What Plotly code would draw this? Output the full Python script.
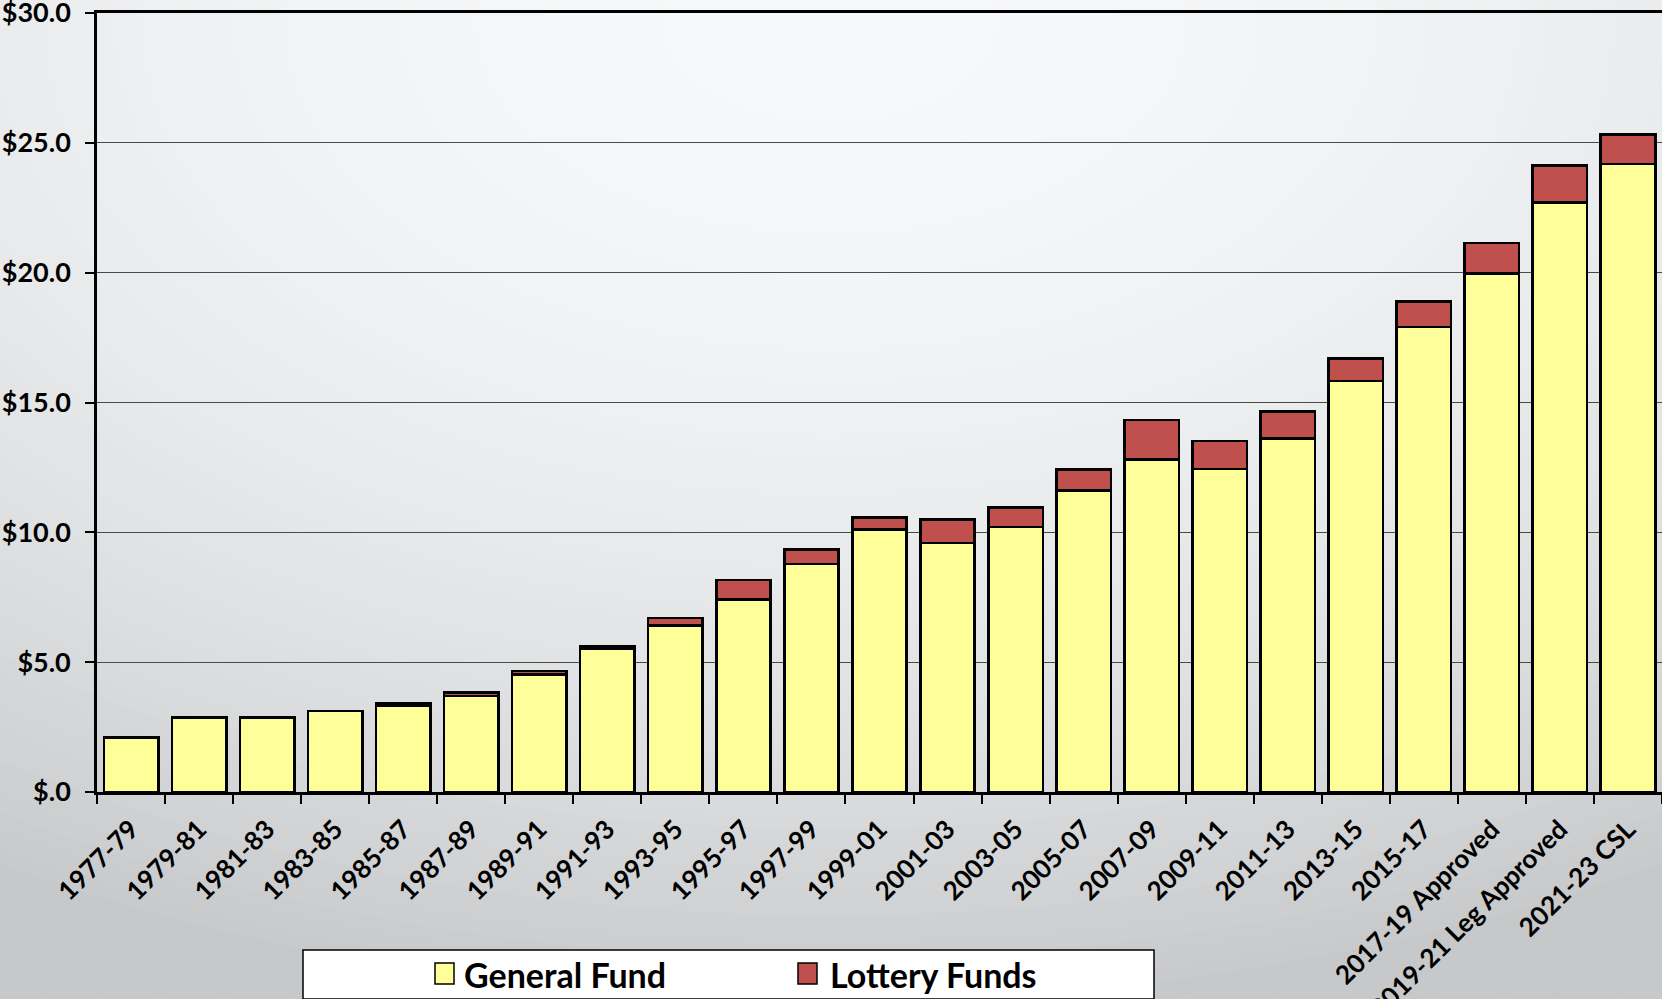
import plotly.graph_objects as go

# ---- data (billions of dollars) ----
categories = ["1977-79", "1979-81", "1981-83", "1983-85", "1985-87", "1987-89",
              "1989-91", "1991-93", "1993-95", "1995-97", "1997-99", "1999-01",
              "2001-03", "2003-05", "2005-07", "2007-09", "2009-11", "2011-13",
              "2013-15", "2015-17", "2017-19 Approved", "2019-21 Leg Approved",
              "2021-23 CSL"]
general_fund = [2.09, 2.88, 2.88, 3.12, 3.32, 3.69, 4.53, 5.52, 6.42, 7.41, 8.78, 10.11,
                9.59, 10.20, 11.62, 12.80, 12.44, 13.61, 15.83, 17.91, 19.97, 22.70, 24.18]
lottery_funds = [0.0, 0.0, 0.0, 0.0, 0.08, 0.14, 0.13, 0.11, 0.28, 0.76, 0.57, 0.47,
                 0.90, 0.76, 0.81, 1.53, 1.08, 1.04, 0.86, 0.97, 1.17, 1.42, 1.14]
y_tick_vals = [0, 5, 10, 15, 20, 25, 30]
y_tick_text = ["$.0", "$5.0", "$10.0", "$15.0", "$20.0", "$25.0", "$30.0"]
series_names = ["General Fund", "Lottery Funds"]
series_colors = ["#FFFF99", "#C0504D"]

W, H = 1662, 999
ML, MR, MT, MB = 97, 0, 13, 207
PW = W - ML - MR
PH = H - MT - MB


def px_x(px):
    return (px - ML) / PW


def px_y(py):
    return (H - MB - py) / PH


FONT = "Lato"

fig = go.Figure()
for name, vals, col in zip(series_names, [general_fund, lottery_funds], series_colors):
    fig.add_trace(go.Bar(
        x=categories, y=vals, name=name,
        marker=dict(color=col, line=dict(color="black", width=2.6)),
        showlegend=False,
    ))

shapes = []
# background radial-ish gradient (decorative)
light, dark = 247, 199
N = 90
cx, cy = 830, 20
for k in range(N, 0, -1):
    d = 1.3 * k / N
    c = light - (light - dark) * min(d * d, 1.0)
    rx, ry = 1650 * d, 1000 * d
    shapes.append(dict(type="circle", xref="paper", yref="paper", layer="below",
                       x0=px_x(cx - rx), x1=px_x(cx + rx), y0=px_y(cy + ry), y1=px_y(cy - ry),
                       fillcolor=f"rgb({c:.2f},{c+1:.2f},{c+2:.2f})", line=dict(width=0)))

# legend box
shapes.append(dict(type="rect", xref="paper", yref="paper", layer="above",
                   x0=px_x(303), x1=px_x(1154), y0=px_y(999), y1=px_y(950),
                   fillcolor="white", line=dict(color="black", width=1.5)))
legend_marker_x = [435, 798]
legend_text_x = [462, 828]
annotations = []
for name, col, mx, tx in zip(series_names, series_colors, legend_marker_x, legend_text_x):
    shapes.append(dict(type="rect", xref="paper", yref="paper", layer="above",
                       x0=px_x(mx), x1=px_x(mx + 19), y0=px_y(984), y1=px_y(963),
                       fillcolor=col, line=dict(color="black", width=1.5)))
    annotations.append(dict(xref="paper", yref="paper", x=px_x(tx), y=px_y(974),
                            xanchor="left", yanchor="middle", showarrow=False,
                            text=name, font=dict(family=FONT, size=34, color="black", weight="bold")))

fig.update_layout(
    width=W, height=H,
    margin=dict(l=ML, r=MR, t=MT, b=MB, pad=0, autoexpand=False),
    barmode="stack", bargap=0.2,
    paper_bgcolor="rgb(199,200,201)",
    plot_bgcolor="rgba(0,0,0,0)",
    shapes=shapes, annotations=annotations,
    showlegend=False,
    font=dict(family=FONT, color="black"),
)
fig.update_xaxes(
    type="category", tickmode="array", tickvals=categories, ticktext=categories,
    tickangle=-45, tickfont=dict(family=FONT, size=26, color="black", weight="bold"),
    ticks="outside", tickson="boundaries", ticklen=9, tickwidth=1.5, tickcolor="black",
    ticklabelstandoff=9, ticklabeloverflow="allow", automargin=False,
    showline=True, linecolor="black", linewidth=2.6, mirror=True,
    showgrid=False, zeroline=False,
)
fig.update_yaxes(
    range=[0, 30], tickmode="array", tickvals=y_tick_vals, ticktext=y_tick_text,
    tickfont=dict(family=FONT, size=27, color="black", weight="bold"),
    ticks="outside", ticklen=9, tickwidth=1.5, tickcolor="black", ticklabelstandoff=9,
    ticklabeloverflow="allow", automargin=False,
    showline=True, linecolor="black", linewidth=2.6,
    showgrid=True, gridcolor="#4a4a4a", gridwidth=1.3, zeroline=False,
)

fig.write_html("out.html", config={"displayModeBar": False},
               post_script="document.body.style.margin='0';document.body.style.overflow='hidden';")
